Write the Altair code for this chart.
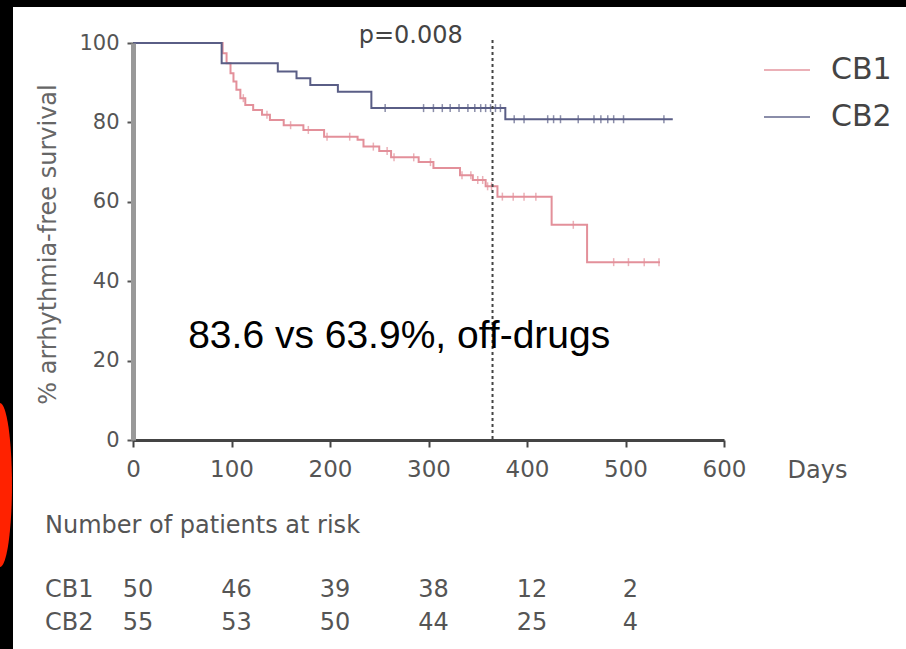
import altair as alt
import pandas as pd

# ---- Kaplan-Meier step curves ----
cb1_days = [0, 91, 95, 99, 102, 105, 109, 114, 122, 131, 139, 153, 173, 194, 228, 234,
            250, 262, 290, 305, 332, 345, 358, 370, 425, 461, 535]
cb1_surv = [100, 97.4, 94.9, 92.4, 90.3, 88.2, 86.1, 84.4, 83.1, 81.9, 80.6, 79.3, 78.1,
            76.4, 75.6, 73.9, 72.8, 71.2, 70.0, 68.5, 66.7, 65.5, 63.9, 61.3, 54.2, 44.8, 44.8]
cb2_days = [0, 90, 147, 166, 180, 208, 242, 378, 548]
cb2_surv = [100, 94.9, 92.8, 91.1, 89.4, 87.7, 83.6, 80.8, 80.8]

# censored observations (tick marks)
cb1_censor = [112, 136, 160, 178, 197, 220, 244, 258, 265, 285, 302, 334, 343, 350, 355,
              360, 364, 375, 386, 397, 409, 447, 488, 503, 519, 534]
cb2_censor = [256, 295, 305, 314, 322, 331, 340, 347, 353, 358, 363, 368, 373, 387, 397,
              421, 427, 434, 452, 468, 475, 482, 488, 498, 539]

series = ["CB1", "CB2"]
colors = ["#e3909a", "#5a5e86"]

# numbers at risk
risk_days = [0, 100, 200, 300, 400, 500]
cb1_risk = [50, 46, 39, 38, 12, 2]
cb2_risk = [55, 53, 50, 44, 25, 4]

x_ticks = [0, 100, 200, 300, 400, 500, 600]
y_ticks = [0, 20, 40, 60, 80, 100]
landmark_day = 365


def surv_at(days, surv, d):
    v = surv[0]
    for dd, ss in zip(days, surv):
        if dd <= d:
            v = ss
    return v


curve_rows = []
for name, ds, ss in [("CB1", cb1_days, cb1_surv), ("CB2", cb2_days, cb2_surv)]:
    for d, s in zip(ds, ss):
        curve_rows.append({"series": name, "day": d, "surv": s})
curves = pd.DataFrame(curve_rows)

censor_rows = []
for name, cs, ds, ss in [("CB1", cb1_censor, cb1_days, cb1_surv),
                         ("CB2", cb2_censor, cb2_days, cb2_surv)]:
    for c in cs:
        censor_rows.append({"series": name, "day": c, "surv": surv_at(ds, ss, c)})
censors = pd.DataFrame(censor_rows)

risk = pd.DataFrame({"day": risk_days, "cb1": cb1_risk, "cb2": cb2_risk})

one = alt.Data(values=[{"k": 1}])

color_scale = alt.Scale(domain=series, range=colors)
x_scale = alt.Scale(domain=[0, 600], nice=False)
y_scale = alt.Scale(domain=[0, 100], nice=False)

# black slide border (top and left strips)
border_left = alt.Chart(one).mark_rect(color="#000").encode(
    x=alt.value(-133), x2=alt.value(-120), y=alt.value(-43), y2=alt.value(606)
)
border_top = alt.Chart(one).mark_rect(color="#000").encode(
    x=alt.value(-133), x2=alt.value(773), y=alt.value(-43), y2=alt.value(-36)
)

# red blob at the left edge
blob_path = ("M0,-1 C0.081,-1 0.146,-0.552 0.146,0 C0.146,0.552 0.081,1 0,1 "
             "C-0.081,1 -0.146,0.552 -0.146,0 C-0.146,-0.552 -0.081,-1 0,-1 Z")
blob = alt.Chart(one).mark_point(shape=blob_path, filled=True, color="#ff2200",
                                 opacity=1, size=26896).encode(
    x=alt.value(-133), y=alt.value(442)
)

lines = alt.Chart(curves).mark_line(interpolate="step-after", strokeWidth=2).encode(
    x=alt.X("day:Q", scale=x_scale,
            axis=alt.Axis(values=x_ticks, title="Days", titleX=654, titleY=30,
                          titleAlign="left", titleBaseline="middle", zindex=1,
                          labelFlush=False)),
    y=alt.Y("surv:Q", scale=y_scale,
            axis=alt.Axis(values=y_ticks, title="% arrhythmia-free survival",
                          titleX=-85, titleY=201, titleAlign="center",
                          titleBaseline="middle", zindex=1, labelFlush=False)),
    color=alt.Color("series:N", scale=color_scale,
                    legend=alt.Legend(title=None, orient="none", legendX=630, legendY=3,
                                      symbolType="stroke", symbolSize=2116,
                                      symbolStrokeWidth=2, labelFontSize=30,
                                      labelFont="DejaVu Sans", labelColor="#444",
                                      labelOffset=20, rowPadding=8, padding=0)),
    detail="series:N",
)

ticks = alt.Chart(censors).mark_tick(orient="vertical", size=8, thickness=1.5).encode(
    x=alt.X("day:Q", scale=x_scale),
    y=alt.Y("surv:Q", scale=y_scale),
    color=alt.Color("series:N", scale=color_scale),
)

landmark = alt.Chart(one).mark_rule(color="#444", strokeDash=[3, 3], strokeWidth=2).encode(
    x=alt.datum(landmark_day), y=alt.value(-3), y2=alt.value(397)
)

pval = alt.Chart(one).mark_text(text="p=0.008", font="DejaVu Sans", fontSize=24,
                                color="#444", align="center", baseline="middle").encode(
    x=alt.datum(282), y=alt.value(-7)
)

annot = alt.Chart(one).mark_text(text="83.6 vs 63.9%, off-drugs",
                                 font="Liberation Sans", fontSize=39, color="#000",
                                 align="left", baseline="alphabetic").encode(
    x=alt.datum(56), y=alt.datum(23.2)
)

risk_title = alt.Chart(one).mark_text(text="Number of patients at risk", font="DejaVu Sans",
                                      fontSize=24, color="#555", align="left",
                                      baseline="middle").encode(
    x=alt.value(-88), y=alt.value(483)
)

row_lbl1 = alt.Chart(one).mark_text(text="CB1", font="DejaVu Sans", fontSize=24,
                                    color="#555", align="left", baseline="middle").encode(
    x=alt.value(-88), y=alt.value(547))
row_lbl2 = alt.Chart(one).mark_text(text="CB2", font="DejaVu Sans", fontSize=24,
                                    color="#555", align="left", baseline="middle").encode(
    x=alt.value(-88), y=alt.value(580))

risk1 = alt.Chart(risk).mark_text(font="DejaVu Sans", fontSize=24, color="#555",
                                  align="center", baseline="middle", dx=5).encode(
    x=alt.X("day:Q", scale=x_scale), y=alt.value(547), text="cb1:Q")
risk2 = alt.Chart(risk).mark_text(font="DejaVu Sans", fontSize=24, color="#555",
                                  align="center", baseline="middle", dx=5).encode(
    x=alt.X("day:Q", scale=x_scale), y=alt.value(580), text="cb2:Q")

chart = alt.layer(
    lines, ticks, landmark, pval, annot,
    risk_title, row_lbl1, row_lbl2, risk1, risk2,
    border_left, border_top, blob
).properties(
    width=591, height=397,
    autosize=alt.AutoSizeParams(type="none"),
    padding={"left": 133, "top": 43, "right": 182, "bottom": 209},
    background="white",
).configure_view(stroke=None).configure_axis(
    grid=False,
    labelFont="DejaVu Sans", titleFont="DejaVu Sans", titleFontWeight="normal",
    labelColor="#555", titleColor="#555",
).configure_axisX(
    domainColor="#444", domainWidth=3, tickColor="#444", tickWidth=2, tickSize=7,
    labelFontSize=23, labelPadding=11, titleFontSize=24,
).configure_axisY(
    domainColor="#999", domainWidth=5, tickColor="#555", tickWidth=2, tickSize=6,
    labelFontSize=21, labelPadding=8, titleFontSize=24, titleColor="#666",
)

chart.save("out.html", embed_options={"renderer": "svg", "actions": False})
